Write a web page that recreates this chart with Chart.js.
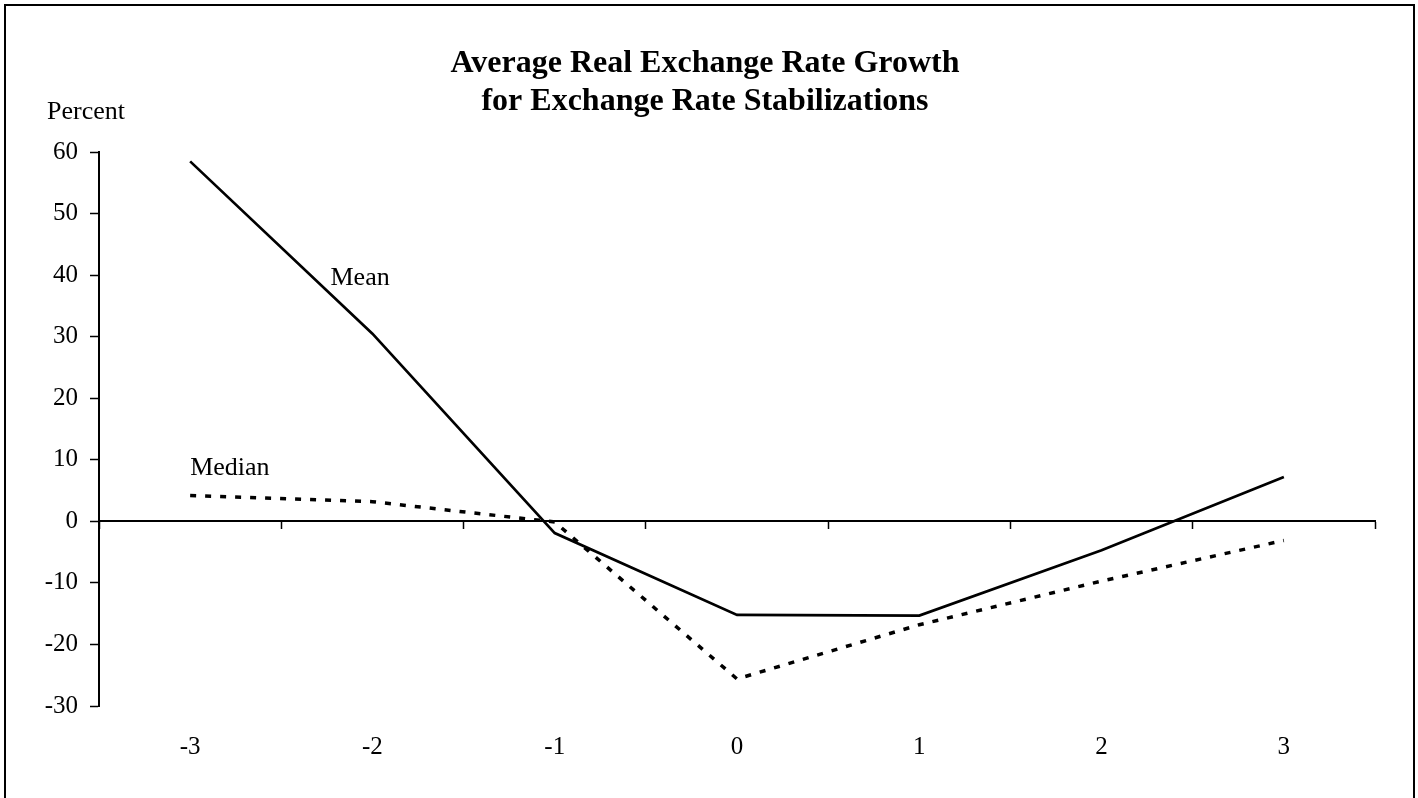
<!DOCTYPE html>
<html>
<head>
<meta charset="utf-8">
<script src="https://cdn.jsdelivr.net/npm/chart.js@4.4.0/dist/chart.umd.min.js"></script>
<style>
  html, body { margin: 0; padding: 0; background: #fff; overflow: hidden; }
  #wrap { position: relative; width: 1418px; height: 798px; }
  #frame { position: absolute; left: 4px; top: 4px; width: 1407px; height: 900px; border: 2px solid #000; pointer-events: none; }
</style>
</head>
<body>
<div id="wrap">
  <canvas id="c" width="1418" height="798"></canvas>
  <div id="frame"></div>
</div>
<script>
const titleLines = ['Average Real Exchange Rate Growth', 'for Exchange Rate Stabilizations'];
const yUnitLabel = 'Percent';
const categories = ['-3', '-2', '-1', '0', '1', '2', '3'];
const meanValues = [58.5, 30.5, -1.9, -15.2, -15.3, -4.7, 7.2];
const medianValues = [4.2, 3.2, -0.1, -25.6, -16.8, -9.7, -3.1];
const yMin = -30, yMax = 60, yStep = 10;

const serif = "'Liberation Serif', 'Times New Roman', serif";

const labelPlugin = {
  id: 'seriesLabels',
  afterDraw(chart) {
    const ctx = chart.ctx;
    const xs = chart.scales.x, ys = chart.scales.y;
    const step = xs.getPixelForValue(1) - xs.getPixelForValue(0);
    ctx.save();
    ctx.fillStyle = '#000';
    ctx.textBaseline = 'alphabetic';
    ctx.textAlign = 'left';
    ctx.font = '26px ' + serif;
    ctx.fillText(yUnitLabel, chart.chartArea.left - 52, chart.chartArea.top - 33);
    ctx.fillText('Mean', xs.getPixelForValue(0) + 0.77 * step, ys.getPixelForValue(38.4));
    ctx.fillText('Median', xs.getPixelForValue(0), ys.getPixelForValue(7.6));
    ctx.restore();
  }
};

new Chart(document.getElementById('c'), {
  type: 'line',
  data: {
    labels: categories,
    datasets: [
      {
        label: 'Mean',
        data: meanValues,
        xAxisID: 'x',
        yAxisID: 'y',
        borderColor: '#000',
        borderWidth: 2.7,
        pointRadius: 0,
        tension: 0,
        fill: false
      },
      {
        label: 'Median',
        data: medianValues,
        xAxisID: 'x',
        yAxisID: 'y',
        borderColor: '#000',
        borderWidth: 3.5,
        borderDash: [6, 9],
        pointRadius: 0,
        tension: 0,
        fill: false
      }
    ]
  },
  options: {
    responsive: false,
    animation: false,
    layout: { padding: { left: 35, right: 43, top: 0, bottom: 0 } },
    plugins: {
      legend: { display: false },
      tooltip: { enabled: false },
      title: {
        display: true,
        text: titleLines,
        color: '#000',
        font: { family: serif, size: 32, weight: 'bold', lineHeight: 1.19 },
        padding: { top: 45, bottom: 31 }
      }
    },
    scales: {
      x: {
        type: 'category',
        position: 'bottom',
        offset: true,
        grid: { display: false, drawTicks: false },
        border: { display: false },
        ticks: {
          color: '#000',
          font: { family: serif, size: 25 },
          padding: 26,
          maxRotation: 0,
          autoSkip: false
        },
        afterFit(scale) { scale.height = 92; }
      },
      xz: {
        type: 'category',
        position: { y: 0 },
        offset: true,
        grid: {
          display: true,
          offset: true,
          drawOnChartArea: false,
          drawTicks: true,
          tickLength: 7,
          tickWidth: 1.5,
          tickColor: '#000'
        },
        border: { display: true, color: '#000', width: 2 },
        ticks: { display: false }
      },
      y: {
        type: 'linear',
        position: 'left',
        min: yMin,
        max: yMax,
        grid: {
          display: true,
          drawOnChartArea: false,
          drawTicks: true,
          tickLength: 9,
          tickWidth: 1.5,
          tickColor: '#000'
        },
        border: { display: true, color: '#000', width: 2 },
        ticks: {
          stepSize: yStep,
          color: '#000',
          font: { family: serif, size: 25 },
          padding: 12
        },
        afterFit(scale) { scale.width = 64; }
      }
    }
  },
  plugins: [labelPlugin]
});
</script>
</body>
</html>
